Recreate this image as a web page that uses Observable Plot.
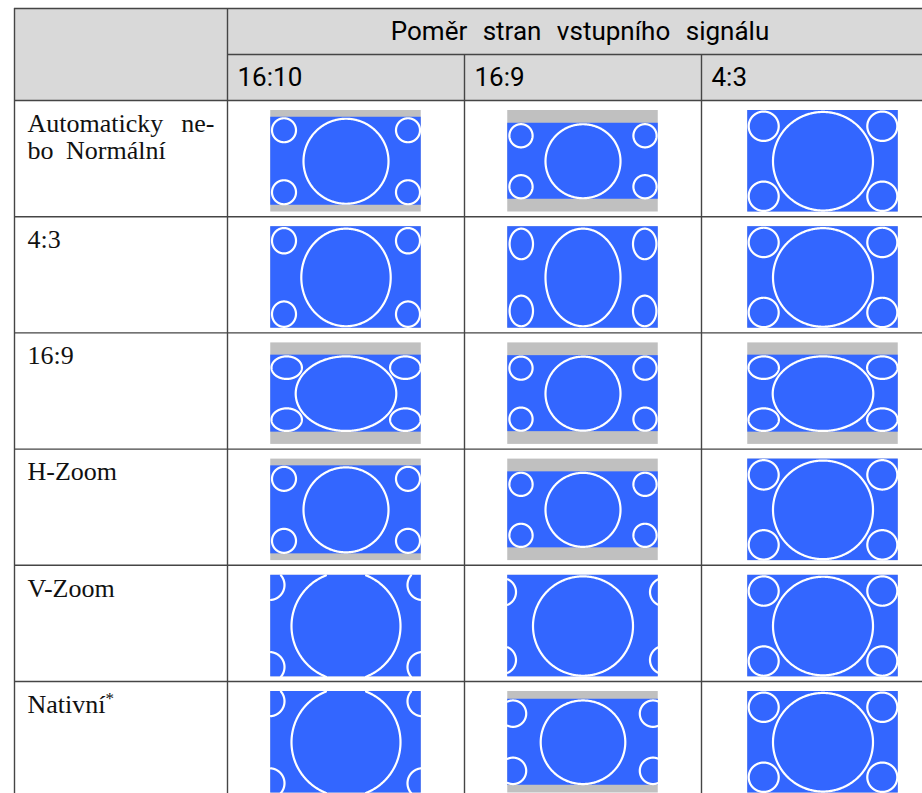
<!DOCTYPE html>
<html><head><meta charset="utf-8">
<script src="https://cdn.jsdelivr.net/npm/d3@7"></script>
<script src="https://cdn.jsdelivr.net/npm/@observablehq/plot@0.6"></script>
<style>
html,body{margin:0;padding:0;background:#fff;}
#chart svg{display:block;}
</style>
</head><body><div id="chart"></div>
<script>
// ---------------- DATA ----------------
const headerTitle = "Poměr stran vstupního signálu";
const signalRatios = ["16:10", "16:9", "4:3"];
const modes = ["Automaticky ne-\nbo Normální", "4:3", "16:9", "H-Zoom", "V-Zoom", "Nativní"];
const footnoteMark = "*"; // attached to "Nativní"

// pattern used in each cell (rows = modes, columns = signal ratios)
const cellPattern = [
  ["A", "B", "C"],
  ["D", "E", "C"],
  ["F", "B", "F"],
  ["A", "B", "C"],
  ["G", "H", "C"],
  ["G", "I", "C"]
];
// test-pattern geometry, in screen units (screen = 150.5 x 101.5)
const patternIds = ["A", "B", "C", "D", "E", "F", "G", "H", "I"];
const imageHeight = [88, 76, 101.5, 101.5, 101.5, 77, 101.5, 101.5, 86];
const bigRx   = [42.5, 37.5, 50, 44.7, 37.5, 50.3, 54.5, 50, 42.3];
const bigRy   = [42.5, 37, 49.3, 48.8, 48.8, 37.3, 54.5, 49.7, 41.8];
const smallRx = [12, 11.6, 15, 12, 11.7, 15.2, 15, 14, 13.2];
const smallRy = [12, 11.6, 14.7, 12.7, 15.3, 11.3, 15, 14, 13.2];
const smallDx = [62, 62, 59.3, 62, 61.7, 59.3, 76.5, 81, 70];
const smallDy = [31, 25.5, 35, 36.7, 33.5, 26, 41, 34, 28.6];

// ---------------- LAYOUT ----------------
const W = 922, H = 793;
const colEdges = [14, 227, 464, 701, 944];
const headerTop = 8, headerMid = 54, headerBottom = 100, rowH = 116.2;
const screenW = 150.5, screenH = 101.5, screenPad = 10;
const gridColor = "#454545";

const cells = [];
modes.forEach((m, r) => signalRatios.forEach((s, c) => {
  const p = patternIds.indexOf(cellPattern[r][c]);
  const cx = (colEdges[c + 1] + colEdges[c + 2]) / 2;
  const cy = headerBottom + r * rowH + screenPad + screenH / 2;
  cells.push({r, c, p, cx, cy,
    sx1: cx - screenW / 2, sx2: cx + screenW / 2,
    sy1: cy - screenH / 2, sy2: cy + screenH / 2,
    iy1: cy - imageHeight[p] / 2, iy2: cy + imageHeight[p] / 2});
}));

// ellipse outlines, clipped to the visible image
const ellipsePts = [];
let eid = 0;
for (const cell of cells) {
  const p = cell.p;
  const shapes = [[0, 0, bigRx[p], bigRy[p]]];
  for (const sx of [-1, 1]) for (const sy of [-1, 1])
    shapes.push([sx * smallDx[p], sy * smallDy[p], smallRx[p], smallRy[p]]);
  for (const [ox, oy, rx, ry] of shapes) {
    const N = 400;
    for (let i = 0; i <= N; i++) {
      const a = (i / N) * 2 * Math.PI;
      const x = cell.cx + ox + rx * Math.cos(a);
      const y = cell.cy + oy + ry * Math.sin(a);
      const inside = x >= cell.sx1 && x <= cell.sx2 && y >= cell.iy1 && y <= cell.iy2;
      ellipsePts.push({id: eid, x: inside ? x : NaN, y: inside ? y : NaN});
    }
    eid++;
  }
}

// grid
const rowTops = modes.map((m, r) => headerBottom + r * rowH);
const hLines = [
  {y: headerTop, x1: colEdges[0], x2: colEdges[4]},
  {y: headerMid, x1: colEdges[1], x2: colEdges[4]},
  ...rowTops.map(y => ({y, x1: colEdges[0], x2: colEdges[4]}))
];
const vLines = [
  {x: colEdges[0], y1: headerTop, y2: H + 10},
  {x: colEdges[1], y1: headerTop, y2: H + 10},
  {x: colEdges[2], y1: headerMid, y2: H + 10},
  {x: colEdges[3], y1: headerMid, y2: H + 10}
];

const sans = "Roboto, 'Noto Sans', sans-serif";
const serif = "'Liberation Serif', 'DejaVu Serif', serif";

const plot = Plot.plot({
  width: W, height: H,
  margin: 0,
  x: {domain: [0, W], range: [0, W], axis: null},
  y: {domain: [0, H], range: [0, H], axis: null},
  marks: [
    Plot.rect([{x1: colEdges[0], x2: colEdges[4], y1: headerTop, y2: headerBottom}],
      {x1: "x1", x2: "x2", y1: "y1", y2: "y2", fill: "#d9d9d9"}),
    Plot.rect(cells, {x1: "sx1", x2: "sx2", y1: "sy1", y2: "sy2", fill: "#c0c0c0"}),
    Plot.rect(cells, {x1: "sx1", x2: "sx2", y1: "iy1", y2: "iy2", fill: "#3366ff"}),
    Plot.line(ellipsePts, {x: "x", y: "y", z: "id", stroke: "white", strokeWidth: 2.2, curve: "linear"}),
    Plot.ruleY(hLines, {y: "y", x1: "x1", x2: "x2", stroke: gridColor, strokeWidth: 1.4}),
    Plot.ruleX(vLines, {x: "x", y1: "y1", y2: "y2", stroke: gridColor, strokeWidth: 1.4}),
    Plot.text([headerTitle], {x: (colEdges[1] + colEdges[4]) / 2 - 6, y: (headerTop + headerMid) / 2,
      text: d => d, fontSize: 26, fontWeight: 400, fontFamily: sans, fill: "#000", textAnchor: "middle", lineAnchor: "middle"}),
    Plot.text(signalRatios, {x: (d, i) => colEdges[i + 1] + 10, y: (headerMid + headerBottom) / 2,
      text: d => d, fontSize: 26, fontWeight: 400, fontFamily: sans, fill: "#000", textAnchor: "start", lineAnchor: "middle"}),
    Plot.text(modes, {x: colEdges[0] + 13, y: (d, i) => rowTops[i] + 12,
      text: d => d, fontSize: 26, lineHeight: 1.04, fontFamily: serif, fill: "#111",
      textAnchor: "start", lineAnchor: "top"})
  ]
});

document.getElementById("chart").appendChild(plot);

// typographic touches: wide word spacing in the header, justified first line, footnote mark
const svg = d3.select(plot);
svg.selectAll("text").each(function () {
  if (this.textContent === headerTitle) this.style.wordSpacing = "9px";
});
svg.selectAll("tspan").each(function () {
  if (this.textContent === "Automaticky ne-") {
    const w = this.getComputedTextLength();
    const target = colEdges[1] - colEdges[0] - 26;
    this.style.wordSpacing = Math.max(0, target - w) + "px";
  }
  if (this.textContent === "bo Normální") this.style.wordSpacing = "6px";
});
svg.selectAll("text").each(function () {
  if (this.textContent === "Nativní") {
    d3.select(this).append("tspan").attr("font-size", "17").attr("dy", "-0.5em").text(footnoteMark);
  }
});
</script>
</body></html>
